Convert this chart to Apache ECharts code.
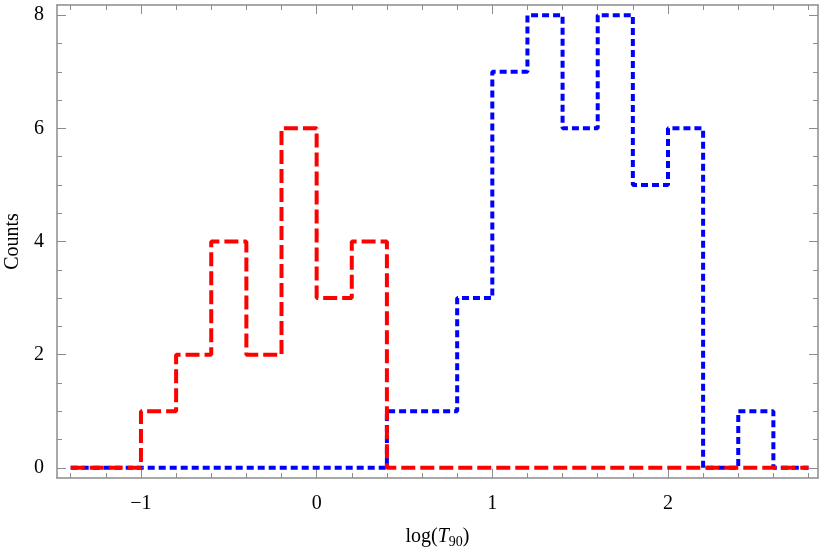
<!DOCTYPE html>
<html>
<head>
<meta charset="utf-8">
<script src="https://cdn.jsdelivr.net/npm/echarts@6/dist/echarts.min.js"></script>
<style>html,body{margin:0;padding:0;background:#fff}#c{width:822px;height:550px}</style>
</head>
<body>
<div id="c"></div>
<script>
// bin left edges (width 0.2), final right edge 2.8
const binEdges = [-1.4,-1.2,-1.0,-0.8,-0.6,-0.4,-0.2,0.0,0.2,0.4,0.6,0.8,1.0,1.2,1.4,1.6,1.8,2.0,2.2,2.4,2.6,2.8];
const redCounts  = [0,0,1,2,4,2,6,3,4,0,0,0,0,0,0,0,0,0,0,0,0];
const blueCounts = [0,0,0,0,0,0,0,0,0,1,1,3,7,8,6,8,5,6,0,1,0];
const xMajorTicks = [-1,0,1,2];
const xMinorTicks = [-1.4,-1.2,-1.0,-0.8,-0.6,-0.4,-0.2,0,0.2,0.4,0.6,0.8,1.0,1.2,1.4,1.6,1.8,2.0,2.2,2.4,2.6,2.8];
const yMajorTicks = [0,2,4,6,8];
const yMinorTicks = [0,0.5,1,1.5,2,2.5,3,3.5,4,4.5,5,5.5,6,6.5,7,7.5,8];

const xMin = -1.478, xMax = 2.854, yMin = -0.18, yMax = 8.18;

function stepData(counts){
  const d = counts.map((c,i)=>[binEdges[i], c]);
  d.push([binEdges[binEdges.length-1], counts[counts.length-1]]);
  return d;
}
const font = 'Liberation Serif';
const frameColor = '#8c8c8c';
const fs = 20;

function fmt(v){ return v < 0 ? '\u2212' + Math.abs(v) : String(v); }

function xAx(pos, ticks, len, labels, show){
  return {
    type:'value', position:pos, min:xMin, max:xMax,
    axisLine:{show:show, onZero:false, lineStyle:{color:frameColor, width:1.5}},
    axisTick:{show:true, inside:true, length:len, customValues:ticks, lineStyle:{color:frameColor, width:1}},
    axisLabel:{show:labels, customValues:ticks, formatter:fmt, color:'#000', fontFamily:font, fontSize:fs, margin:16},
    splitLine:{show:false}
  };
}
function yAx(pos, ticks, len, labels, show){
  return {
    type:'value', position:pos, min:yMin, max:yMax,
    axisLine:{show:show, onZero:false, lineStyle:{color:frameColor, width:1.5}},
    axisTick:{show:true, inside:true, length:len, customValues:ticks, lineStyle:{color:frameColor, width:1}},
    axisLabel:{show:labels, customValues:ticks, formatter:fmt, color:'#000', fontFamily:font, fontSize:fs, margin:13},
    splitLine:{show:false}
  };
}

const xAxes = [
  xAx('bottom', xMajorTicks, 9, true, true),
  xAx('bottom', xMinorTicks, 5, false, false),
  xAx('top', xMajorTicks, 9, false, true),
  xAx('top', xMinorTicks, 5, false, false)
];
xAxes[0].name = '{n|log(}{i|T}{s|90}{n|)}';
xAxes[0].nameLocation = 'middle';
xAxes[0].nameGap = 47;
xAxes[0].nameTextStyle = {rich:{
  n:{fontFamily:font, fontSize:fs, color:'#000'},
  i:{fontFamily:font, fontSize:fs, fontStyle:'italic', color:'#000'},
  s:{fontFamily:font, fontSize:14, color:'#000', verticalAlign:'bottom', padding:[10,0,0,0]}
}};
const yAxes = [
  yAx('left', yMajorTicks, 9, true, true),
  yAx('left', yMinorTicks, 5, false, false),
  yAx('right', yMajorTicks, 9, false, true),
  yAx('right', yMinorTicks, 5, false, false)
];
yAxes[0].name = 'Counts';
yAxes[0].nameLocation = 'middle';
yAxes[0].nameGap = 31;
yAxes[0].nameRotate = 90;
yAxes[0].nameTextStyle = {fontFamily:font, fontSize:fs, color:'#000'};

const chart = echarts.init(document.getElementById('c'), null, {renderer:'canvas'});
chart.setOption({
  animation:false,
  grid:{left:57, right:4, top:5, bottom:72, containLabel:false, outerBoundsMode:'none'},
  xAxis:xAxes,
  yAxis:yAxes,
  series:[
    {type:'line', step:'end', data:stepData(blueCounts), symbol:'none', xAxisIndex:0, yAxisIndex:0,
     lineStyle:{color:'#0000ff', width:4, type:[7,4], cap:'butt'}, z:2},
    {type:'line', step:'end', data:stepData(redCounts), symbol:'none', xAxisIndex:0, yAxisIndex:0,
     lineStyle:{color:'#ff0000', width:4, type:[14,5], cap:'butt'}, z:3}
  ]
});
</script>
</body>
</html>
